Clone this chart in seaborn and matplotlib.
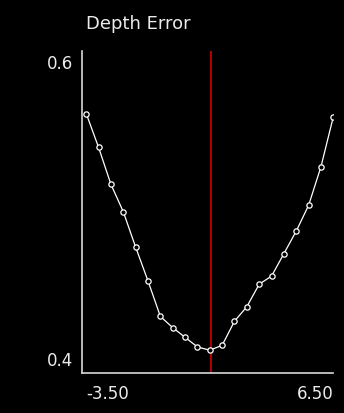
"""
Depth error sweep plot (dark style)
- white line with hollow markers, red marker line at the best offset
"""
import numpy as np
import pandas as pd
import matplotlib
matplotlib.use("Agg")
import matplotlib.pyplot as plt
import matplotlib.transforms as mtransforms
import seaborn as sns

# sweep offsets and the measured depth error
offset = [-3.5, -3.0, -2.5, -2.0, -1.5, -1.0, -0.5, 0.0, 0.5, 1.0, 1.5,
          2.0, 2.5, 3.0, 3.5, 4.0, 4.5, 5.0, 5.5, 6.0, 6.5]
depth_error = [0.561, 0.540, 0.517, 0.500, 0.478, 0.457, 0.435, 0.428, 0.422, 0.416, 0.414,
               0.417, 0.432, 0.441, 0.455, 0.460, 0.474, 0.488, 0.504, 0.528, 0.559]
best_offset = 1.54

x_ticks = [-3.5, 6.5]
x_tick_labels = ["-3.50", "6.50"]
y_ticks = [0.4, 0.6]
y_tick_labels = ["0.4", "0.6"]
title = "Depth Error"

BG = "black"
FG = "#ececec"

sns.set_style("dark")
plt.rcParams["font.family"] = ["DejaVu Sans"]

df = pd.DataFrame({"offset": offset, "error": depth_error})

fig = plt.figure(figsize=(3.44, 4.14), dpi=100, facecolor=BG)
ax = fig.add_axes([0.239, 0.0973, 0.730, 0.7777])
ax.set_facecolor(BG)

ax.axvline(best_offset, color="#d00000", lw=1.2, zorder=1)
sns.lineplot(data=df, x="offset", y="error", ax=ax, color="white", lw=0.9,
             marker="o", markersize=3.8, markerfacecolor=BG,
             markeredgecolor="white", markeredgewidth=0.9, zorder=3)

ax.set_xlim(-3.662, 6.5)
ax.set_ylim(0.4, 0.6)
ax.grid(False)
ax.set_xlabel("")
ax.set_ylabel("")

for side in ["top", "right"]:
    ax.spines[side].set_visible(False)
for side in ["left", "bottom"]:
    ax.spines[side].set_visible(True)
    ax.spines[side].set_color("#d8d8d8")
    ax.spines[side].set_linewidth(1.2)

ax.set_xticks(x_ticks)
ax.set_xticklabels(x_tick_labels)
ax.set_yticks(y_ticks)
ax.set_yticklabels(y_tick_labels)
ax.tick_params(axis="x", length=0, pad=8, labelsize=12, colors=FG)
ax.tick_params(axis="y", length=0, pad=6.5, labelsize=12, colors=FG)

# edge labels sit inside the axis range, like the original viewer
xl = ax.get_xticklabels()
xl[0].set_ha("left")
xl[1].set_ha("right")
yl = ax.get_yticklabels()
yl[0].set_va("bottom")
yl[0].set_transform(yl[0].get_transform() + mtransforms.ScaledTranslation(0, 3 / 72, fig.dpi_scale_trans))
yl[1].set_va("top")
yl[1].set_transform(yl[1].get_transform() + mtransforms.ScaledTranslation(0, -2 / 72, fig.dpi_scale_trans))

fig.text(0.25, 0.929, title, color=FG, fontsize=13, ha="left", va="baseline")

fig.savefig("out.png", dpi=100, facecolor=BG)
plt.close(fig)
